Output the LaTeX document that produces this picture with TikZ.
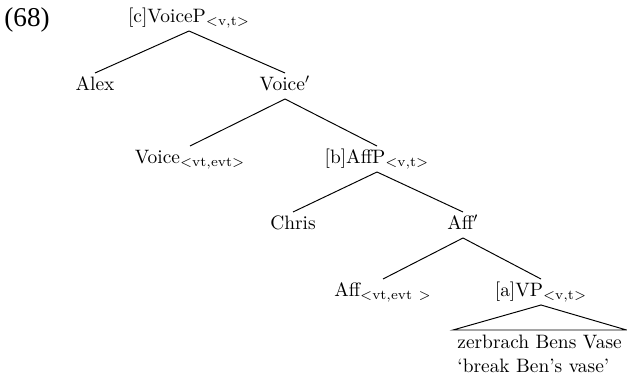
\documentclass[tikz,border=0pt]{standalone}
\usepackage{fontspec}
\newfontfamily\numfont{Liberation Serif}
\begin{document}
\begin{tikzpicture}[x=0.5155pt,y=-0.5155pt,
  lab/.style={inner sep=1pt,text height=8pt,text depth=3pt},
  branch/.style={line width=0.5pt}]
\useasboundingbox (0,0) rectangle (627,378);
% example number
\node[anchor=west,inner sep=0pt] (num) at (4,20) {\numfont\fontsize{14}{16}\selectfont (68)};
% tree labels
\node[lab] (voicep) at (189,18) {[c]VoiceP$_{<\mathrm{v,t}>}$};
\node[lab] (alex)   at (95,86) {Alex};
\node[lab] (voicebar) at (285,86) {Voice$'$};
\node[lab] (voice)  at (190,159) {Voice$_{<\mathrm{vt,evt}>}$};
\node[lab] (affp)   at (377,159) {[b]AffP$_{<\mathrm{v,t}>}$};
\node[lab] (chris)  at (293,225) {Chris};
\node[lab] (affbar) at (463,225) {Aff$'$};
\node[lab] (aff)    at (383,292) {Aff$_{<\mathrm{vt,evt}\ >}$};
\node[lab] (vp)     at (541,292) {[a]VP$_{<\mathrm{v,t}>}$};
% branches
\draw[branch] (voicep.south) -- (alex.north);
\draw[branch] (voicep.south) -- (voicebar.north);
\draw[branch] (voicebar.south) -- (voice.north);
\draw[branch] (voicebar.south) -- (affp.north);
\draw[branch] (affp.south) -- (chris.north);
\draw[branch] (affp.south) -- (affbar.north);
\draw[branch] (affbar.south) -- (aff.north);
\draw[branch] (affbar.south) -- (vp.north);
% roof over the VP
\coordinate (roofl) at (453,330);
\coordinate (roofr) at (626.5,330);
\draw[branch] (vp.south) -- (roofl) -- (roofr) -- cycle;
\node[anchor=north west,align=left,inner sep=0pt] (yield) at (457,335)
  {zerbrach Bens Vase\\‘break Ben’s vase’};
\end{tikzpicture}
\end{document}
